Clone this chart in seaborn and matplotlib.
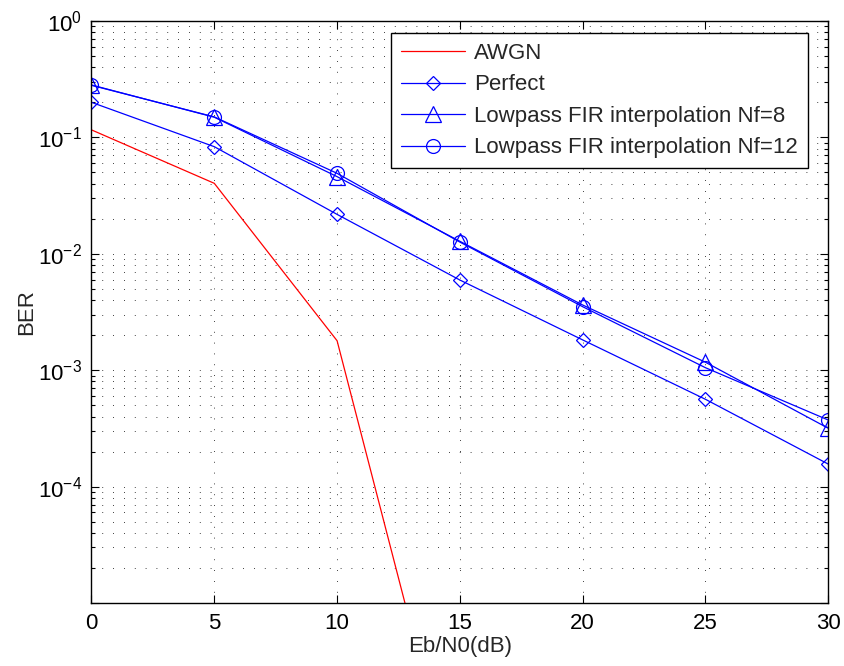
import matplotlib
matplotlib.use("Agg")
import matplotlib.pyplot as plt
from matplotlib.ticker import LogLocator, NullFormatter, NullLocator, FixedLocator
import numpy as np
import pandas as pd
import seaborn as sns

# Eb/N0 sweep (dB) and measured bit error rates
snr_db = [0, 5, 10, 15, 20, 25, 30]
snr_awgn = [0, 5, 10, 15]
ber_awgn = [0.116, 0.0403, 1.79e-3, 1.5e-7]
ber_perfect = [0.200, 0.0832, 0.0218, 5.95e-3, 1.82e-3, 5.62e-4, 1.56e-4]
ber_nf8 = [0.282, 0.149, 0.046, 0.0128, 3.63e-3, 1.17e-3, 3.17e-4]
ber_nf12 = [0.280, 0.150, 0.0491, 0.0126, 3.51e-3, 1.05e-3, 3.73e-4]

labels = ["AWGN", "Perfect", "Lowpass FIR interpolation Nf=8",
          "Lowpass FIR interpolation Nf=12"]

sns.set_style("ticks")
plt.rcParams["font.family"] = ["Liberation Sans", "DejaVu Sans"]
plt.rcParams["mathtext.fontset"] = "custom"
plt.rcParams["mathtext.rm"] = "Liberation Sans"
plt.rcParams["mathtext.it"] = "Liberation Sans:italic"
plt.rcParams["mathtext.sf"] = "Liberation Sans"
plt.rcParams["axes.unicode_minus"] = True

fig = plt.figure(figsize=(8.44, 6.66), dpi=100)
ax = fig.add_axes([0.1084, 0.0946, 0.8730, 0.8739])

line_kw = dict(linewidth=0.9, markerfacecolor="none", markeredgewidth=0.9,
               errorbar=None, sort=False, ax=ax)

df_awgn = pd.DataFrame({"snr": snr_awgn, "ber": ber_awgn})
sns.lineplot(data=df_awgn, x="snr", y="ber", color="#ff0000",
             label=labels[0], **line_kw)

series = [
    (ber_perfect, labels[1], "D", 7.2),
    (ber_nf8, labels[2], "^", 11),
    (ber_nf12, labels[3], "o", 10),
]
for ber, lab, mk, ms in series:
    df = pd.DataFrame({"snr": snr_db, "ber": ber})
    sns.lineplot(data=df, x="snr", y="ber", color="#0000ff", marker=mk,
                 markersize=ms, markeredgecolor="#0000ff", label=lab,
                 **line_kw)

ax.set_yscale("log")
ax.set_xlim(0, 30)
ax.set_ylim(1e-5, 1)

ax.xaxis.set_major_locator(FixedLocator([0, 5, 10, 15, 20, 25, 30]))
ax.xaxis.set_minor_locator(NullLocator())
ax.set_xticklabels(["0", "5", "10", "15", "20", "25", "30"])

decades = [1e-5, 1e-4, 1e-3, 1e-2, 1e-1, 1e0]
ax.yaxis.set_major_locator(FixedLocator(decades))
ax.set_yticklabels(["", r"$10^{-4}$", r"$10^{-3}$", r"$10^{-2}$",
                    r"$10^{-1}$", r"$10^{0}$"])
ax.yaxis.set_minor_locator(LogLocator(base=10, subs=np.arange(2, 10)))
ax.yaxis.set_minor_formatter(NullFormatter())

ax.tick_params(which="both", direction="in", top=True, right=True,
               labelsize=16, colors="black", width=0.8)
ax.tick_params(which="major", length=5.5, pad=7)
ax.tick_params(which="minor", length=3)

for sp in ax.spines.values():
    sp.set_visible(True)
    sp.set_linewidth(1.0)
    sp.set_color("black")

grid_kw = dict(linestyle=(0, (1, 12)), linewidth=0.6, color="black")
ax.grid(True, which="major", axis="both", **grid_kw)
ax.grid(True, which="minor", axis="y", **grid_kw)

ax.set_xlabel("Eb/N0(dB)", fontsize=16, labelpad=2)
ax.set_ylabel("BER", fontsize=16, labelpad=0)

leg = ax.legend(loc="upper right", bbox_to_anchor=(0.9724, 0.9794),
                borderaxespad=0, fontsize=16, frameon=True, fancybox=False,
                framealpha=1, edgecolor="black", handlelength=2.9,
                handletextpad=0.4, labelspacing=0.47, borderpad=0.45)
leg.get_frame().set_linewidth(1.0)

fig.savefig("out.png", dpi=100)
